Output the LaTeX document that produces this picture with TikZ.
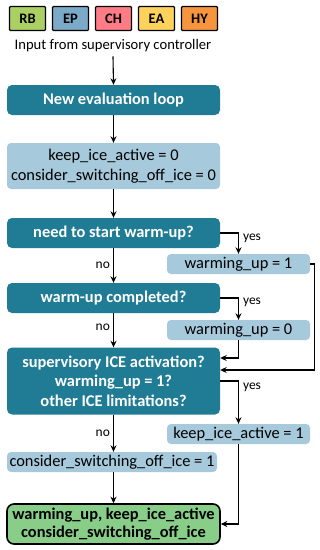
\documentclass[tikz,border=0pt]{standalone}
\usepackage{fontspec}
\setmainfont{Carlito}
\usepackage{xcolor}
\usetikzlibrary{arrows.meta,positioning,calc}
\definecolor{tealc}{RGB}{32,124,148}
\definecolor{lightc}{RGB}{166,201,220}
\definecolor{rbcol}{RGB}{170,208,100}
\definecolor{epcol}{RGB}{122,170,200}
\definecolor{chcol}{RGB}{255,124,134}
\definecolor{eacol}{RGB}{255,210,92}
\definecolor{hycol}{RGB}{245,150,62}
\definecolor{outcol}{RGB}{136,205,136}

\begin{document}
\begin{tikzpicture}[x=1pt,y=-1pt, >={Stealth[length=6.5pt,width=6pt]},
  dark/.style={fill=tealc,rounded corners=5pt,text=white,font=\fontsize{16.4}{19.5}\selectfont\bfseries,minimum width=213pt,align=center,inner sep=0pt},
  light/.style={fill=lightc,rounded corners=4pt,font=\fontsize{16.4}{20}\selectfont,minimum width=213pt,align=center,inner sep=0pt},
  small/.style={light,minimum width=143pt,minimum height=20pt},
  tag/.style={draw=black,line width=1.4pt,rounded corners=1pt,minimum width=36pt,minimum height=24pt,inner sep=0pt,font=\fontsize{14.5}{16}\selectfont\bfseries},
  lbl/.style={font=\fontsize{13.5}{15}\selectfont,inner sep=0pt},
  flow/.style={->,line width=1.1pt}]
\useasboundingbox (0,0) rectangle (320,550);
% mode tags
\foreach \t/\c [count=\i from 0] in {RB/rbcol,EP/epcol,CH/chcol,EA/eacol,HY/hycol}
  \node[tag,fill=\c] (tag\t) at (27.5+43*\i,18.5) {\t};
\node[font=\fontsize{14.6}{16}\selectfont,inner sep=0pt] (input) at (113,46) {Input from supervisory controller};
% main column
\node[dark,minimum height=30pt] (newloop) at (113.5,100) {New evaluation loop};
\node[light,minimum height=46pt] (init) at (113.5,166) {keep\_ice\_active = 0\\consider\_switching\_off\_ice = 0};
\node[dark,minimum height=30pt] (needwarm) at (113.5,233) {need to start warm-up?};
\node[dark,minimum height=30pt] (warmdone) at (113.5,298) {warm-up completed?};
\node[dark,minimum height=67pt] (supact) at (113.5,381) {supervisory ICE activation?\\warming\_up = 1?\\other ICE limitations?};
\node[light,minimum width=210pt,minimum height=20pt] (consider) at (112,462) {consider\_switching\_off\_ice = 1};
\node[fill=outcol,draw=black,line width=1.6pt,rounded corners=7pt,minimum width=213pt,minimum height=40pt,inner sep=0pt,align=center,font=\fontsize{16.4}{18.5}\selectfont\bfseries] (result) at (113.5,524) {warming\_up, keep\_ice\_active\\consider\_switching\_off\_ice};
% side column
\node[small] (warm1) at (238.5,264) {warming\_up = 1};
\node[small] (warm0) at (238.5,330) {warming\_up = 0};
\node[small] (keep1) at (238.5,434) {keep\_ice\_active = 1};
% connectors
\draw[flow] (input.south)+(0,4) -- (newloop.north);
\draw[flow] (newloop) -- (init);
\draw[flow] (init) -- (needwarm);
\draw[flow] (needwarm) -- node[lbl,left=3pt]{no} (warmdone);
\draw[flow] (warmdone) -- node[lbl,pos=0.4,left=3pt]{no} (supact);
\draw[flow] (supact.south) -- node[lbl,left=3pt]{no} (supact.south |- consider.north);
\draw[flow] (consider.south -| result.north) -- (result.north);
\draw[flow] (needwarm.east) -| node[lbl,pos=0.62,right=4pt]{yes} (warm1.north);
\draw[flow] (warmdone.east) -| node[lbl,pos=0.6,right=4pt]{yes} (warm0.north);
\draw[flow] (supact.east) -| node[lbl,pos=0.57,right=4pt]{yes} (keep1.north);
\draw[flow] (warm0.south) |- ($(supact.east)+(0,-23)$);
\draw[flow] (warm1.east) -- ++(4,0) |- ($(supact.east)+(0,-11)$);
\draw[flow] (keep1.south) |- (result.east);
\end{tikzpicture}
\end{document}
